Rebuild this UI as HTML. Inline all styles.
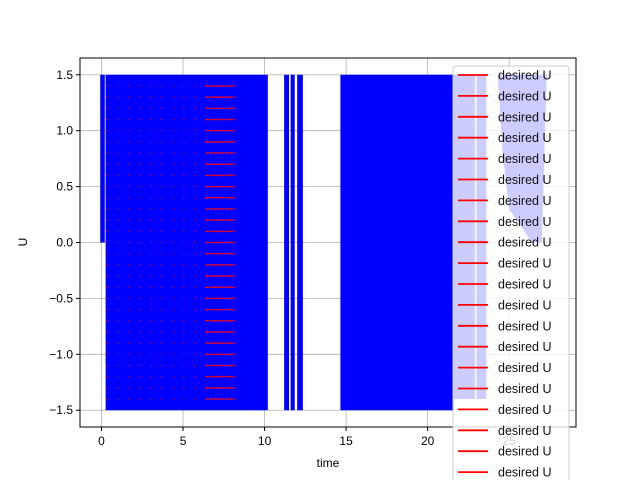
<!DOCTYPE html>
<html><head><meta charset="utf-8"><style>
html,body{margin:0;background:#fff;overflow:hidden;width:640px;height:480px;}
svg{display:block;overflow:hidden;font-family:"Liberation Sans","DejaVu Sans",sans-serif;}
</style></head><body>
<svg id="c" width="640" height="480">
<g id="grid"></g>
<g id="marks"></g>
<g id="axes"></g>
<g id="legend"></g>
</svg>
<script>
const xTicks=[0,5,10,15,20,25];
const yTicks=[-1.5,-1.0,-0.5,0.0,0.5,1.0,1.5];
const bandStarts=[-0.08,0.25,11.2,11.6,12.0,14.65,21.6,23.0];
const bandEnds=[0.2,10.2,11.5,11.85,12.35,21.6,22.9,23.6];
const bandLows=[0.0,-1.5,-1.5,-1.5,-1.5,-1.5,-1.4,-1.4];
const bandHighs=[1.5,1.5,1.5,1.5,1.5,1.5,1.5,1.5];
const blobT=[24.3,24.6,25.0,26.4,27.0,27.3,27.0,26.0,25.2,24.7];
const blobU=[1.5,0.8,0.3,0.0,0.0,1.5,1.5,1.5,1.5,1.5];
const redLevels=[];for(let k=-14;k<=14;k++)redLevels.push(k/10);
const legendLabels=Array(20).fill("desired U");
const L=80,R=576,T=58,B=427;
const x0=-1.32,x1=29.1,y0=-1.65,y1=1.65;
const X=v=>L+(v-x0)/(x1-x0)*(R-L);
const Y=v=>B-(v-y0)/(y1-y0)*(B-T);
const NS="http://www.w3.org/2000/svg";
function mk(p,t,a){const e=document.createElementNS(NS,t);for(const k in a)e.setAttribute(k,a[k]);p.appendChild(e);return e;}
const g=document.getElementById('grid'),m=document.getElementById('marks'),ax=document.getElementById('axes'),lg=document.getElementById('legend');
xTicks.forEach(v=>{const l=mk(g,'line',{x1:X(v),x2:X(v),y1:T,y2:B,stroke:'#b0b0b0','stroke-width':0.8});
});
yTicks.forEach(v=>{const l=mk(g,'line',{x1:L,x2:R,y1:Y(v),y2:Y(v),stroke:'#b0b0b0','stroke-width':0.8});
});
bandStarts.forEach((s,i)=>{const r=mk(m,'rect',{x:X(s),y:Y(bandHighs[i]),width:X(bandEnds[i])-X(s),height:Y(bandLows[i])-Y(bandHighs[i]),fill:'#0000ff'});
});
const pb=mk(m,'polygon',{points:blobT.map((t,i)=>X(t)+','+Y(blobU[i])).join(' '),fill:'#0000ff'});

redLevels.forEach(v=>{
const a=mk(m,'line',{x1:X(0.3),x2:X(8.2),y1:Y(v),y2:Y(v),stroke:'#ff0000','stroke-width':1.2,'stroke-dasharray':'1 10'});

const b=mk(m,'line',{x1:X(6.4),x2:X(8.2),y1:Y(v),y2:Y(v),stroke:'#ff0000','stroke-width':1.5,'stroke-dasharray':'3 1'});
});
const fr=mk(ax,'rect',{x:L,y:T,width:R-L,height:B-T,fill:'none',stroke:'#000','stroke-width':1});

xTicks.forEach(v=>{mk(ax,'line',{x1:X(v),x2:X(v),y1:B,y2:B+4,stroke:'#000'});
const t=mk(ax,'text',{x:X(v),y:B+18,'text-anchor':'middle','font-size':12});t.textContent=v;
});
yTicks.forEach(v=>{mk(ax,'line',{x1:L-4,x2:L,y1:Y(v),y2:Y(v),stroke:'#000'});
const t=mk(ax,'text',{x:L-7,y:Y(v)+4,'text-anchor':'end','font-size':12});t.textContent=(v<0?'\u2212':'')+Math.abs(v).toFixed(1);
});
const xl=mk(ax,'text',{x:328,y:467,'text-anchor':'middle','font-size':12});xl.textContent='time';

const yl=mk(ax,'text',{x:27,y:242,'text-anchor':'middle','font-size':12,transform:'rotate(-90 27 242)'});yl.textContent='U';

const lb=mk(lg,'rect',{x:453,y:66,width:116,height:420,rx:3,fill:'rgba(255,255,255,0.8)',stroke:'#cccccc'});

legendLabels.forEach((s,i)=>{const y=75+i*20.9;
const ln=mk(lg,'line',{x1:458,x2:488,y1:y,y2:y,stroke:'#ff0000','stroke-width':1.8});

const t=mk(lg,'text',{x:498,y:y+4.5,'font-size':12.5,fill:'#111'});t.textContent=s;
});
</script>
</body></html>
